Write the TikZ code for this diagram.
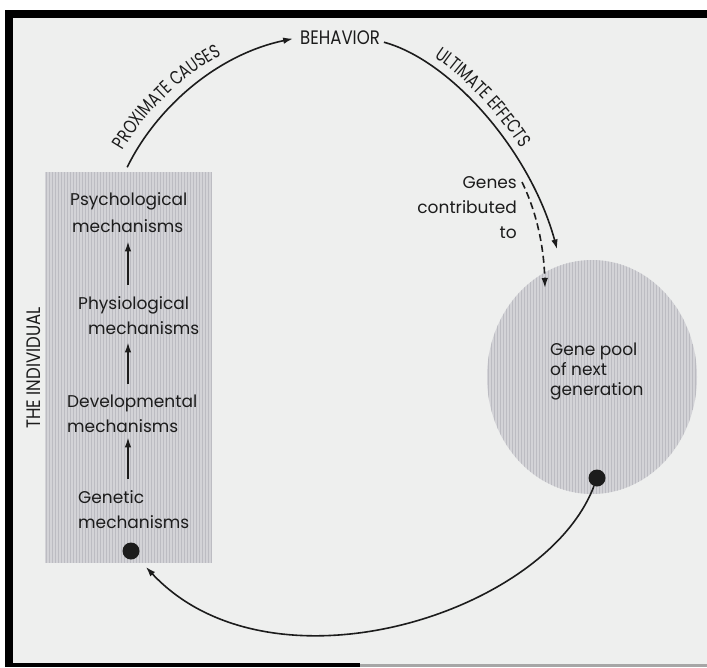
\documentclass[tikz,border=0pt]{standalone}
\usepackage{fontspec}
\usetikzlibrary{shapes.geometric,arrows.meta,decorations.text}
\newfontfamily\bodyfam{Poppins}
\newfontfamily\capsfam[FakeStretch=0.85]{Poppins}
\newfontfamily\arcfam[FakeStretch=0.77]{Poppins}
\newcommand\bodyfnt{\bodyfam\fontsize{17}{20}\selectfont}
\newcommand\cpsfnt{\capsfam\fontsize{19.5}{21}\selectfont}
\newcommand\arcfnt{\arcfam\fontsize{19}{20}\selectfont}
\definecolor{bg}{HTML}{EEEFEE}
\definecolor{shadefill}{HTML}{D3D3D7}
\definecolor{stripe}{HTML}{BCBCC2}
\definecolor{ink}{HTML}{1C1C1C}
\begin{document}
\begin{tikzpicture}[x=1pt,y=1pt,
  body/.style={font=\bodyfnt, text=ink, inner sep=0pt, anchor=base west},
  bodyr/.style={body, anchor=base east},
  capslbl/.style={font=\cpsfnt, text=ink, inner sep=0pt},
  conn/.style={draw=ink, line width=1.6pt, -{Latex[length=10pt,width=6.5pt]}},
  dconn/.style={conn, dash pattern=on 7pt off 4pt},
  dotnode/.style={circle, fill=ink, inner sep=0pt, minimum size=17pt},
  shadebox/.style={fill=shadefill, inner sep=0pt},
  stripeline/.style={draw=stripe, line width=1pt}
]
\useasboundingbox (0,0) rectangle (707,-667);
% frame and background
\fill[white] (0,0) rectangle (707,-667);
\fill[bg] (5,-10) rectangle (707,-667);
\fill[black] (5,-10) rectangle (707,-18);
\fill[black] (5,-10) rectangle (13,-667);
\fill[black] (5,-663) rectangle (360,-667);
\fill[gray!70] (360,-664) rectangle (707,-667);

% the individual (shaded column)
\node[shadebox, rectangle, minimum width=167pt, minimum height=391pt] (indiv) at (128.5,-367.5) {};
\begin{scope}
  \clip (indiv.south west) rectangle (indiv.north east);
  \foreach \i in {0,...,56} \draw[stripeline] (46+3*\i,-172) -- (46+3*\i,-563);
\end{scope}

% gene pool (shaded ellipse)
\node[shadebox, ellipse, minimum width=210pt, minimum height=234pt] (pool) at (592,-377) {};
\begin{scope}
  \clip (592,-377) ellipse [x radius=105pt, y radius=117pt];
  \foreach \i in {0,...,70} \draw[stripeline] (488+3*\i,-258) -- (488+3*\i,-496);
\end{scope}

% texts in column
\node[body] (psychA) at (70,-205) {Psychological};
\node[body] (psychB) at (72,-232) {mechanisms};
\node[body] (physA) at (78,-309) {Physiological};
\node[body] (physB) at (88,-334) {mechanisms};
\node[body] (devA) at (67,-407) {Developmental};
\node[body] (devB) at (67,-432) {mechanisms};
\node[body] (genA) at (78,-503) {Genetic};
\node[body] (genB) at (78,-528) {mechanisms};

% texts in gene pool
\node[body] (gp1) at (550,-355) {Gene pool};
\node[body] (gp2) at (550,-375) {of next};
\node[body] (gp3) at (550,-395) {generation};

% genes contributed to
\node[bodyr] (genes) at (517,-188) {Genes};
\node[bodyr] (contrib) at (517,-213) {contributed};
\node[bodyr] (tolbl) at (517,-238) {to};

% caps labels
\node[capslbl, anchor=base west] (beh) at (300,-44) {BEHAVIOR};
\node[capslbl, rotate=90] (thind) at (34,-368) {THE INDIVIDUAL};

% dots
\node[dotnode] (idot) at (131,-551) {};
\node[dotnode] (pdot) at (597,-478) {};
\coordinate (dtip) at (545,-288);
\coordinate (ax) at (128,0);

% small upward arrows
\draw[conn, shorten <=11pt, shorten >=9pt] (ax |- physA.north) -- (ax |- psychB.south);
\draw[conn, shorten <=10pt, shorten >=8pt] (ax |- devA.north) -- (ax |- physB.south);
\draw[conn, shorten <=11pt, shorten >=5pt] (ax |- genA.north) -- (ax |- devB.south);

% main cycle
\draw[conn, shorten <=5pt, shorten >=7pt] ([xshift=-3.5pt]indiv.north) .. controls (155,-110) and (215,-55) .. (beh.west);
\draw[conn, shorten <=4pt, shorten >=16pt] ([yshift=-4pt]beh.east) .. controls (450,-60) and (530,-150) .. (pool);
\draw[conn, shorten >=13pt] (pdot) .. controls (545,-615) and (270,-700) .. (idot);
\draw[dconn] ([xshift=5pt]genes.east) .. controls (538,-215) and (544,-250) .. (dtip);

% labels along arcs
\path[decorate, decoration={text along path, text={|\arcfnt|PROXIMATE CAUSES}, text color=ink, text align={left indent=12pt}}]
  (117,-161) .. controls (147,-104) and (207,-48) .. (286,-31);
\path[decorate, decoration={text along path, text={|\arcfnt|ULTIMATE EFFECTS}, text color=ink, text align={left indent=50pt}}]
  (389,-36) .. controls (456,-54) and (536,-144) .. (566,-242);
\end{tikzpicture}
\end{document}
